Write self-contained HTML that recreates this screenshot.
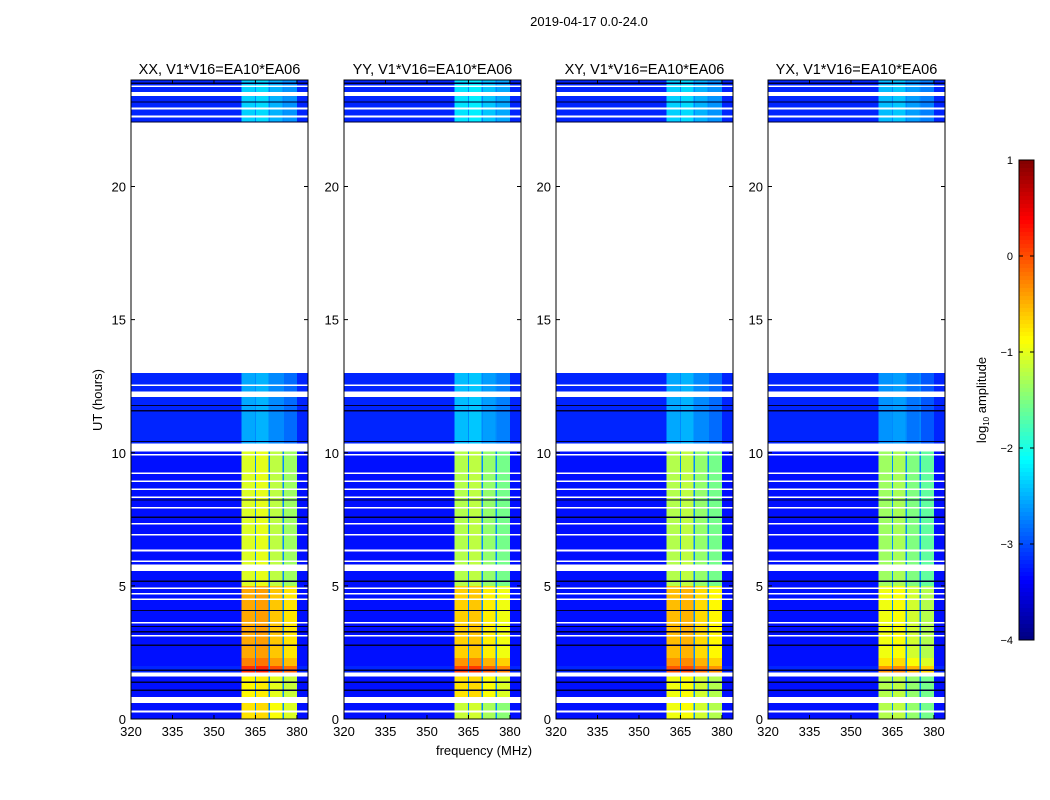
<!DOCTYPE html>
<html><head><meta charset="utf-8"><style>
html,body{margin:0;padding:0;background:#fff;}
svg{display:block;font-family:"Liberation Sans","DejaVu Sans",sans-serif;}
</style></head><body>
<svg id="fig" width="1050" height="800" viewBox="0 0 1050 800">
<text x="589" y="26" font-size="13" text-anchor="middle">2019-04-17 0.0-24.0</text>
<text x="484" y="755" font-size="13" text-anchor="middle">frequency (MHz)</text>
<text x="102" y="400" font-size="13" text-anchor="middle" transform="rotate(-90 102 400)">UT (hours)</text>
<g id="panels"></g>
<g id="cbar"></g>
<text x="986" y="400" font-size="13" text-anchor="middle" transform="rotate(-90 986 400)">log<tspan font-size="8" dy="3">10</tspan><tspan dy="-3"> amplitude</tspan></text>
</svg>
<script>
const titles = ["XX, V1*V16=EA10*EA06","YY, V1*V16=EA10*EA06","XY, V1*V16=EA10*EA06","YX, V1*V16=EA10*EA06"];
const xTicks = [320,335,350,365,380];
const yTicks = [0,5,10,15,20];
const cbTicks = [1,0,-1,-2,-3,-4];
// filled time ranges (hours)
const filled = [[0,13.0],[22.4,24]];
// time pieces for band level
const bandTimes = [[0,0.7],[0.7,1.7],[1.7,2.0],[2.0,2.3],[2.3,5.0],[5.0,10.1],[10.1,13.0],[22.4,24]];
const bandXX = [-0.8,-0.9,0.1,-0.3,-0.5,-1.1,-2.6,-2.4];
const bandYY = [-1.2,-0.8,0.0,-0.4,-0.7,-1.3,-2.5,-2.3];
const bandXY = [-1.0,-1.0,-0.1,-0.4,-0.6,-1.3,-2.6,-2.4];
const bandYX = [-1.3,-1.3,-0.4,-0.8,-1.0,-1.4,-2.7,-2.5];
const bandSeries = [bandXX,bandYY,bandXY,bandYX];
const bgLevel = [-3.3,-3.3,-3.2,-3.3,-3.3,-3.3,-3.2,-3.2];
// band sub-columns (MHz) and relative offsets
const subCols = [[360,365],[365,370],[370,375],[375,380]];
const subOffset = [0.05,0.1,-0.1,-0.25];
const notches = [365,370,375];
// white (flagged) gaps in hours
const whiteGaps = [[0.25,0.32],[0.6,0.82],[1.6,1.75],[3.1,3.15],[3.6,3.65],[4.48,4.52],[4.68,4.74],[4.88,4.94],[5.55,5.8],[5.9,5.95],[6.3,6.36],[6.9,6.95],[7.3,7.36],[7.9,7.96],[8.3,8.35],[8.6,8.66],[8.9,8.96],[9.2,9.26],[9.9,9.96],[10.05,10.35],[12.1,12.3],[12.5,12.56],[22.6,22.66],[22.9,22.96],[23.4,23.55],[23.75,23.8]];
// dark lines in hours
const darkLines = [1.1,1.4,1.85,2.8,3.3,3.5,4.1,5.2,7.6,8.25,10.45,11.6,11.8,22.45,23.2,23.9];

(function(){
function jet(v){
  let t=(v+4)/5; t=Math.max(0,Math.min(1,t));
  const f=(x)=>Math.max(0,Math.min(1,1.5-Math.abs(4*t-x)));
  return `rgb(${Math.round(f(3)*255)},${Math.round(f(2)*255)},${Math.round(f(1)*255)})`;
}
const NS="http://www.w3.org/2000/svg";
function mk(tag,attrs,parent){const e=document.createElementNS(NS,tag);for(const k in attrs)e.setAttribute(k,attrs[k]);parent.appendChild(e);return e;}
const panelsG=document.getElementById('panels');
const px0=[131,344,556,768], pw=177, pTop=80, pBot=719;
for(let p=0;p<4;p++){
  const x0=px0[p];
  const fx=f=>x0+(f-320)*(pw/64);
  const ty=h=>pBot-(h/24)*(pBot-pTop);
  const g=mk('g',{},panelsG);
  
  
  const band=bandSeries[p];
  bandTimes.forEach((bt,i)=>{
    const y1=ty(bt[1]), y2=ty(bt[0]);
    const r=mk('rect',{x:x0,y:y1,width:pw,height:y2-y1,fill:jet(bgLevel[i]),'shape-rendering':'crispEdges'},g);
    
    
    subCols.forEach((c,j)=>{
      const rr=mk('rect',{x:fx(c[0]),y:y1,width:fx(c[1])-fx(c[0]),height:y2-y1,fill:jet(band[i]+subOffset[j]),'shape-rendering':'crispEdges'},g);
      
      
    });
    notches.forEach(n=>{
      const nr=mk('rect',{x:fx(n)-0.7,y:y1,width:1.4,height:y2-y1,fill:jet(-2.7),'shape-rendering':'crispEdges'},g);
      
      
    });
  });
  const e1=ty(filled[1][0]), e2=ty(filled[0][1]);
  mk('rect',{x:x0,y:e1,width:pw,height:e2-e1,fill:'#fff'},g);
  whiteGaps.forEach(w=>{
    const y1=ty(w[1]),y2=ty(w[0]);
    const r=mk('rect',{x:x0,y:y1,width:pw,height:Math.max(1.5,y2-y1),fill:'#fff','shape-rendering':'crispEdges'},g);
    
    
  });
  darkLines.forEach(d=>{
    const r=mk('rect',{x:x0,y:ty(d),width:pw,height:1.3,fill:'#000030','shape-rendering':'crispEdges'},g);
    
    
  });
  mk('rect',{x:x0,y:pTop,width:pw,height:pBot-pTop,fill:'none',stroke:'#000','stroke-width':1},g);
  const t=mk('text',{x:x0+pw/2,y:74,'font-size':14.5,'text-anchor':'middle'},g);
  t.textContent=titles[p];
  
  
  xTicks.forEach(v=>{
    const x=fx(v);
    mk('line',{x1:x,x2:x,y1:pBot,y2:pBot-4,stroke:'#000'},g);
    mk('line',{x1:x,x2:x,y1:pTop,y2:pTop+4,stroke:'#000'},g);
    const tx=mk('text',{x:x,y:pBot+17,'font-size':13,'text-anchor':'middle'},g);
    tx.textContent=v;
    
    
  });
  yTicks.forEach(v=>{
    const y=ty(v);
    mk('line',{x1:x0,x2:x0+4,y1:y,y2:y,stroke:'#000'},g);
    mk('line',{x1:x0+pw,x2:x0+pw-4,y1:y,y2:y,stroke:'#000'},g);
    const tx=mk('text',{x:x0-5,y:y+5,'font-size':13,'text-anchor':'end'},g);
    tx.textContent=v;
    
    
  });
}
const cb=document.getElementById('cbar');
const cbx=1019,cbw=15,cbt=160,cbb=640;
for(let i=0;i<120;i++){
  const v=1-5*(i+0.5)/120;
  mk('rect',{x:cbx,y:cbt+i*(cbb-cbt)/120,width:cbw,height:(cbb-cbt)/120+0.5,fill:jet(v),'shape-rendering':'crispEdges'},cb);
}
mk('rect',{x:cbx,y:cbt,width:cbw,height:cbb-cbt,fill:'none',stroke:'#000'},cb);
cbTicks.forEach(v=>{
  const y=cbt+(1-v)/5*(cbb-cbt);
  mk('line',{x1:cbx,x2:cbx+4,y1:y,y2:y,stroke:'#000'},cb);
  mk('line',{x1:cbx+cbw,x2:cbx+cbw-4,y1:y,y2:y,stroke:'#000'},cb);
  const tx=mk('text',{x:1013,y:y+4,'font-size':11,'text-anchor':'end'},cb);
  tx.textContent=(v<0?'\u2212'+(-v):String(v));
  
  
});
})();
</script>
</body></html>
